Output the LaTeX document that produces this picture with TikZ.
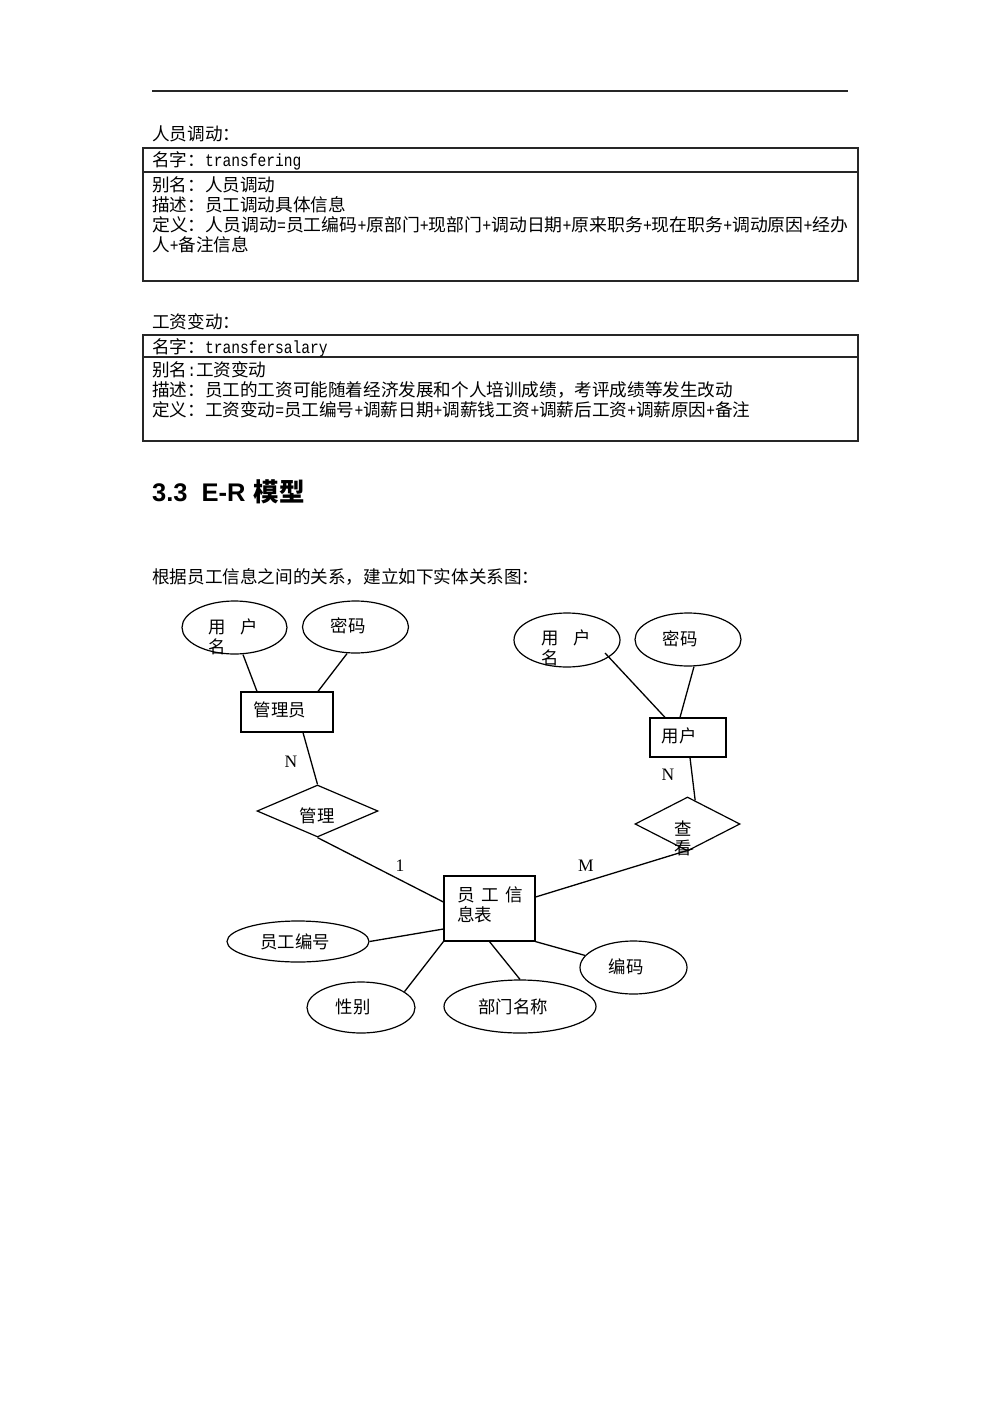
\documentclass[tikz,border=0pt]{standalone}
\usepackage{fontspec}
\setmainfont{Noto Sans CJK SC}
\newfontfamily\lmono[FakeStretch=0.83]{Liberation Mono}
\newfontfamily\lsans{Liberation Sans}
\newfontfamily\lserif{Liberation Serif}
\usetikzlibrary{shapes.geometric}
\newcommand\myplus{{\lmono +}}
\newcommand\myeq{{\lmono =}}
\newcommand\mycolon{{\lmono :}}
\begin{document}
\begin{tikzpicture}[x=1pt,y=-1pt,
  txt/.style={inner sep=0pt, text height=15.5pt, text depth=2.1pt, font=\fontsize{17.6}{20}\selectfont, anchor=west},
  ctxt/.style={inner sep=0pt, text height=15.5pt, text depth=2.1pt, font=\fontsize{17.4}{20}\selectfont},
  lbl/.style={inner sep=0pt, font=\lserif\fontsize{17.5}{20}\selectfont},
  attr/.style={draw, ellipse, inner sep=0pt, line width=1.2pt},
  ent/.style={draw, rectangle, inner sep=0pt, line width=1.2pt},
  rel/.style={draw, diamond, inner sep=0pt, line width=1.2pt},
  tbl/.style={draw=black!85, line width=1.2pt},
  link/.style={line width=1.3pt}]
\useasboundingbox (0,0) rectangle (1000,1415);
% top rule
\draw[line width=1.6pt, black!85] (152,91) -- (848,91);

% ---- table 1
\node[txt] (h1) at (152,134) {人员调动：};
\draw[tbl] (143,148) rectangle (858,281);
\draw[tbl] (143,172) -- (858,172);
\node[txt] (a1) at (152,160) {名字：{\lmono transfering}};
\node[txt] (a2) at (152,184.5) {别名：人员调动};
\node[txt] (a3) at (152,204.5) {描述：员工调动具体信息};
\node[txt] (a4) at (152,224.5) {\scalebox{1.0145}[1]{定义：人员调动\myeq 员工编码\myplus 原部门\myplus 现部门\myplus 调动日期\myplus 原来职务\myplus 现在职务\myplus 调动原因\myplus 经办}};
\node[txt] (a5) at (152,244.5) {人\myplus 备注信息};

% ---- table 2
\node[txt] (h2) at (152,322) {工资变动：};
\draw[tbl] (143,335) rectangle (858,441);
\draw[tbl] (143,357) -- (858,357);
\node[txt] (b1) at (152,347) {名字：{\lmono transfersalary}};
\node[txt] (b2) at (152,369.5) {别名\mycolon 工资变动};
\node[txt] (b3) at (152,389.5) {描述：员工的工资可能随着经济发展和个人培训成绩，考评成绩等发生改动};
\node[txt] (b4) at (152,409.5) {定义：工资变动\myeq 员工编号\myplus 调薪日期\myplus 调薪钱工资\myplus 调薪后工资\myplus 调薪原因\myplus 备注};

% ---- heading
\node[inner sep=0pt, anchor=base west] (sec) at (152,501)
  {\bfseries\fontsize{25.5}{30}\selectfont{\lsans 3.3}\hspace{14pt}{\lsans E-R}\hspace{8pt}模型};
\node[txt] (intro) at (152,577) {根据员工信息之间的关系，建立如下实体关系图：};

% ---- ER diagram shapes
\node[attr, minimum width=105pt, minimum height=53pt] (ua1) at (234.5,627.5) {};
\node[attr, minimum width=106pt, minimum height=52pt] (pa1) at (355.5,627) {};
\node[ent, minimum width=92pt, minimum height=40pt] (adm) at (287,712) {};
\node[rel, minimum width=121pt, minimum height=52pt] (d1) at (317.5,811) {};
\node[ent, minimum width=91pt, minimum height=65pt] (emp) at (489.5,908.5) {};
\node[attr, minimum width=106pt, minimum height=54pt] (ua2) at (567,640) {};
\node[attr, minimum width=106pt, minimum height=53pt] (pa2) at (688,639.5) {};
\node[ent, minimum width=76pt, minimum height=39pt] (usr) at (688,737.5) {};
\node[rel, minimum width=105pt, minimum height=54pt] (d2) at (687.5,824) {};
\node[attr, minimum width=142pt, minimum height=41pt] (eno) at (298,941.5) {};
\node[attr, minimum width=108pt, minimum height=51pt] (sex) at (361,1007.5) {};
\node[attr, minimum width=152pt, minimum height=53pt] (dept) at (520,1006.5) {};
\node[attr, minimum width=107pt, minimum height=53pt] (code) at (633.5,967.5) {};

% ---- connectors
\draw[link] ([xshift=8.5pt]ua1.south) -- ([xshift=-30pt]adm.north);
\draw[link] ([xshift=-8.5pt]pa1.south) -- ([xshift=31pt]adm.north);
\draw[link] ([xshift=16pt]adm.south) -- (d1.north);
\draw[link] (d1.south) -- ([yshift=6.5pt]emp.west);
\draw[link] ([yshift=11.5pt]emp.east) -- (d2.-77);
\draw[link] ([xshift=38pt,yshift=-13pt]ua2.center) -- ([xshift=-23pt]usr.north);
\draw[link] ([xshift=6pt]pa2.south) -- ([xshift=-8pt]usr.north);
\draw[link] ([xshift=2pt]usr.south) -- (d2.72);
\draw[link] (eno.east) -- ([yshift=-20.5pt]emp.west);
\draw[link] (sex.20) -- (emp.south west);
\draw[link] (dept.north) -- (emp.south);
\draw[link] (code.166) -- (emp.south east);

% ---- texts in diagram
\node[ctxt] (t1) at (217.5,627) {用};
\node[ctxt] (t2) at (249.5,627) {户};
\node[ctxt] (t3) at (217.5,647) {名};
\node[ctxt] (t4) at (348,626) {密码};
\node[ctxt] (t5) at (280,710) {管理员};
\node[ctxt] (t6) at (317,816) {管理};
\node[txt] (t7) at (457,895) {员\hspace{6.5pt}工\hspace{6.5pt}信};
\node[txt] (t8) at (457,915) {息表};
\node[ctxt] (t9) at (295,942) {员工编号};
\node[ctxt] (t10) at (353,1007) {性别};
\node[ctxt] (t11) at (513,1007) {部门名称};
\node[ctxt] (t12) at (626,967) {编码};
\node[ctxt] (t13) at (550,638) {用};
\node[ctxt] (t14) at (582,638) {户};
\node[ctxt] (t15) at (550,658) {名};
\node[ctxt] (t16) at (680,639) {密码};
\node[ctxt] (t17) at (679,736) {用户};
\node[ctxt] (t18) at (683,829) {查};
\node[ctxt] (t19) at (683,848) {看};
\node[lbl] (n1) at (291,762) {N};
\node[lbl] (n2) at (400,866) {1};
\node[lbl] (n3) at (586,866) {M};
\node[lbl] (n4) at (668,775) {N};
\end{tikzpicture}
\end{document}
